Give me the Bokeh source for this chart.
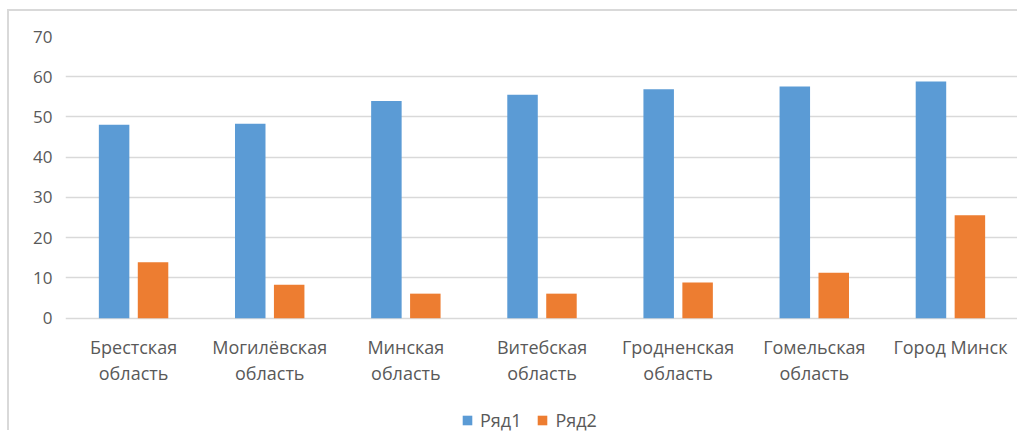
from bokeh.plotting import figure
from bokeh.models import FactorRange, Legend, LegendItem, ColumnDataSource
from bokeh.transform import dodge
from bokeh.core.properties import value
from bokeh.embed import file_html
from bokeh.resources import INLINE

categories = ["Брестская\nобласть", "Могилёвская\nобласть", "Минская\nобласть",
              "Витебская\nобласть", "Гродненская\nобласть", "Гомельская\nобласть",
              "Город Минск"]
series1 = [48.1, 48.3, 54.0, 55.5, 56.9, 57.6, 58.8]
series2 = [13.9, 8.3, 6.1, 6.1, 8.9, 11.3, 25.6]
series_names = ["Ряд1", "Ряд2"]
y_ticks = [0, 10, 20, 30, 40, 50, 60, 70]

FONT = "Open Sans"
TEXT = "#595959"
GRID = "#d9d9d9"
LABEL_Y = -4.1      # where the category labels hang below the zero line
Y_BOTTOM = -28.4    # extra room under the zero line for labels and legend

src = ColumnDataSource(dict(cat=categories, s1=series1, s2=series2,
                            ly=[LABEL_Y] * len(categories)))

p = figure(width=1010, height=421, x_range=FactorRange(factors=categories),
           y_range=(Y_BOTTOM, 70), output_backend="svg", toolbar_location=None,
           min_border_left=56, min_border_right=1, min_border_top=25, min_border_bottom=0)
p.styles = {"margin-left": "7px", "margin-top": "9px",
            "border-top": "2px solid #d9d9d9", "border-left": "2px solid #d9d9d9"}
p.outline_line_color = None
p.background_fill_color = "white"
p.border_fill_color = "white"

r1 = p.vbar(x=dodge("cat", -0.143, range=p.x_range), top="s1", width=0.224, source=src,
            fill_color="#5b9bd5", line_color=None)
r2 = p.vbar(x=dodge("cat", 0.143, range=p.x_range), top="s2", width=0.224, source=src,
            fill_color="#ed7d31", line_color=None)

# category labels
p.text(x="cat", y="ly", text="cat", source=src, text_align="center", text_baseline="top",
       text_font=value(FONT), text_font_size="18px", text_color=TEXT, text_line_height=1.1)

p.xaxis.visible = False
p.yaxis.ticker = y_ticks
p.ygrid.ticker = y_ticks
p.ygrid.grid_line_color = GRID
p.ygrid.grid_line_width = 1.5
p.xgrid.grid_line_color = None

ax = p.yaxis[0]
ax.axis_line_color = None
ax.major_tick_line_color = None
ax.minor_tick_line_color = None
ax.major_tick_out = 0
ax.major_tick_in = 0
ax.minor_tick_out = 0
ax.minor_tick_in = 0
ax.major_label_text_font = FONT
ax.major_label_text_color = TEXT
ax.major_label_text_font_size = "17px"
ax.major_label_standoff = 13

legend = Legend(items=[LegendItem(label=series_names[0], renderers=[r1]),
                       LegendItem(label=series_names[1], renderers=[r2])],
                orientation="horizontal", location=(396, 0),
                glyph_width=12, glyph_height=12, label_standoff=7, spacing=15,
                padding=0, margin=0, border_line_color=None, background_fill_alpha=0,
                label_text_font=FONT, label_text_font_size="18px", label_text_color=TEXT,
                label_height=20)
p.add_layout(legend, "center")

open("out.html", "w").write(file_html(p, INLINE))
